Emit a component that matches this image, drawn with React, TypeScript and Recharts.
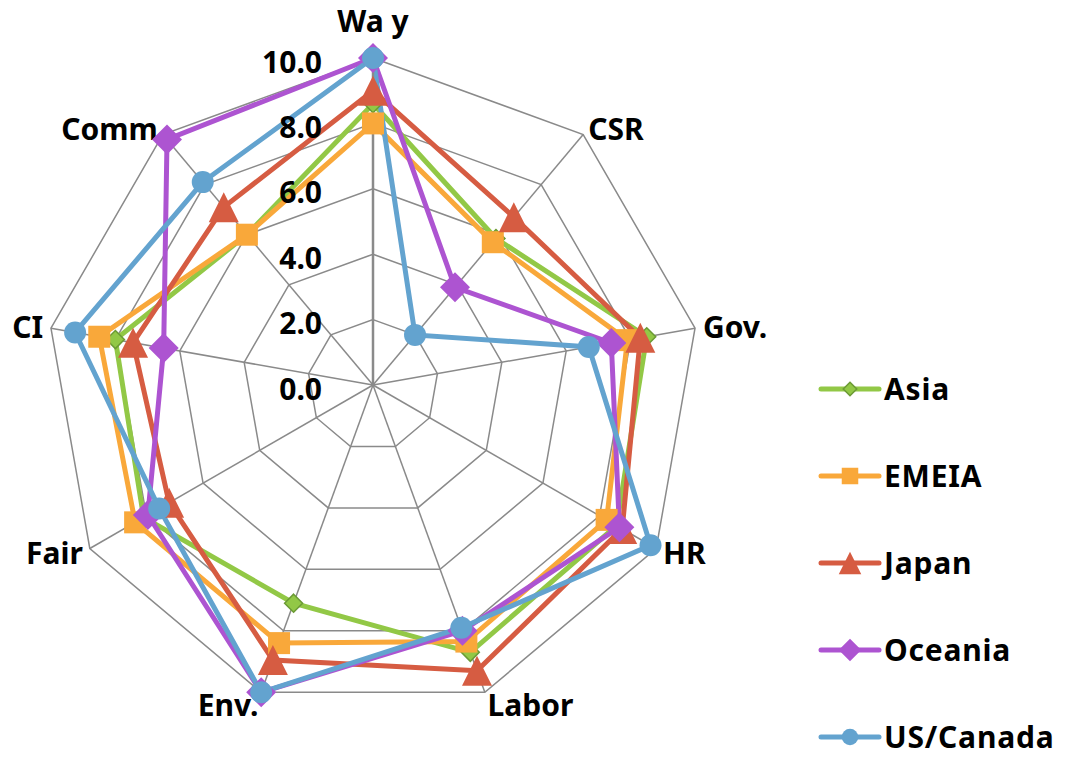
import React from 'react';
import { RadarChart, Radar, PolarGrid, PolarAngleAxis, PolarRadiusAxis } from 'recharts';

const categories = ['Wa y', 'CSR', 'Gov.', 'HR', 'Labor', 'Env.', 'Fair', 'CI', 'Comm'];
const asia = [8.6, 5.85, 8.5, 8.6, 8.7, 7.1, 8.1, 8.0, 6.0];
const emeia = [8.0, 5.7, 7.9, 8.25, 8.35, 8.4, 8.4, 8.5, 6.0];
const japan = [9.0, 6.7, 8.3, 8.8, 9.3, 8.95, 7.2, 7.45, 7.1];
const oceania = [10, 3.9, 7.4, 8.7, 8.0, 10, 7.95, 6.5, 9.8];
const usCanada = [10, 2.0, 6.7, 9.8, 7.9, 10, 7.55, 9.25, 8.1];
const radiusTicks = [0, 2, 4, 6, 8, 10];

const seriesDefs = [
  { key: 'Asia', values: asia, color: '#92C846', shape: 'smallDiamond' },
  { key: 'EMEIA', values: emeia, color: '#F9A83A', shape: 'square' },
  { key: 'Japan', values: japan, color: '#D65C42', shape: 'triangle' },
  { key: 'Oceania', values: oceania, color: '#AD54D1', shape: 'diamond' },
  { key: 'US/Canada', values: usCanada, color: '#63A3CF', shape: 'circle' },
];

const data = categories.map((c, i) => {
  const row: any = { category: c };
  seriesDefs.forEach((s) => { row[s.key] = s.values[i]; });
  return row;
});

const FONT = '"Noto Sans", sans-serif';

function Marker({ shape, color, cx, cy, scale = 1 }: any) {
  if (cx == null || cy == null) return null;
  switch (shape) {
    case 'smallDiamond': {
      const h = 9 * scale;
      return <polygon points={`${cx},${cy - h} ${cx + h},${cy} ${cx},${cy + h} ${cx - h},${cy}`} fill={color} stroke="#6B9A35" strokeWidth={1.5} />;
    }
    case 'square': {
      const h = 11 * scale;
      return <rect x={cx - h} y={cy - h} width={2 * h} height={2 * h} fill={color} />;
    }
    case 'triangle': {
      const w = 15 * scale;
      const h = 15 * scale;
      return <polygon points={`${cx},${cy - h} ${cx + w},${cy + h} ${cx - w},${cy + h}`} fill={color} />;
    }
    case 'diamond': {
      const h = 15 * scale;
      return <polygon points={`${cx},${cy - h} ${cx + h},${cy} ${cx},${cy + h} ${cx - h},${cy}`} fill={color} />;
    }
    default:
      return <circle cx={cx} cy={cy} r={11 * scale} fill={color} />;
  }
}

function AngleTick(props: any) {
  const { x, y, textAnchor, payload } = props;
  let dy = 0;
  if (textAnchor === 'middle') dy = -30;
  const isBottom = payload && (payload.value === 'Labor' || payload.value === 'Env.');
  if (isBottom) dy = 5;
  return (
    <text x={x} y={y + dy} textAnchor={textAnchor} dominantBaseline="central"
      fontFamily={FONT} fontWeight="bold" fontSize={30} fill="#000">
      {payload.value}
    </text>
  );
}

function RadiusTick(props: any) {
  const { x, y, payload } = props;
  return (
    <text x={x - 51} y={y + 3} textAnchor="end" dominantBaseline="central"
      fontFamily={FONT} fontWeight="bold" fontSize={30} fill="#000">
      {Number(payload.value).toFixed(1)}
    </text>
  );
}

function ChartLegend() {
  return (
    <div style={{ position: 'absolute', left: 818, top: 0, width: 250, height: 760 }}>
      {seriesDefs.map((s, i) => (
        <div key={s.key} style={{ position: 'absolute', left: 0, top: 372 + i * 87, height: 34, display: 'flex', alignItems: 'center' }}>
          <svg width={64} height={30} style={{ display: 'block' }}>
            <line x1={3} y1={15} x2={61} y2={15} stroke={s.color} strokeWidth={5} strokeLinecap="round" />
            <Marker shape={s.shape} color={s.color} cx={32} cy={15} scale={0.75} />
          </svg>
          <span style={{ fontFamily: FONT, fontWeight: 'bold', fontSize: 30, letterSpacing: 0.8, color: '#000', marginLeft: 2, lineHeight: '34px', whiteSpace: 'nowrap' }}>
            {s.key}
          </span>
        </div>
      ))}
    </div>
  );
}

export default function App() {
  return (
    <div style={{ width: 1074, height: 760, position: 'relative', margin: '-8px 0 0 -8px' }}>
      <RadarChart width={1074} height={760} data={data} cx={373} cy={385} outerRadius={327}
        startAngle={90} endAngle={-270} margin={{ top: 0, right: 0, bottom: 0, left: 0 }}>
        <PolarGrid gridType="polygon" stroke="#8A8A8A" strokeWidth={1.5} />
        <PolarAngleAxis dataKey="category" tick={<AngleTick />} tickLine={false} axisLine={false} />
        <PolarRadiusAxis angle={90} domain={[0, 10]} ticks={radiusTicks} tickCount={6}
          tick={<RadiusTick />} axisLine={{ stroke: '#8A8A8A', strokeWidth: 2.5 }} tickLine={false} />
        {seriesDefs.map((s) => (
          <Radar key={s.key} name={s.key} dataKey={s.key} stroke={s.color} strokeWidth={5}
            fill="none" fillOpacity={0} isAnimationActive={false}
            dot={(p: any) => <Marker key={`${s.key}-${p.index}`} shape={s.shape} color={s.color} cx={p.cx} cy={p.cy} />} />
        ))}
      </RadarChart>
      <ChartLegend />
    </div>
  );
}
